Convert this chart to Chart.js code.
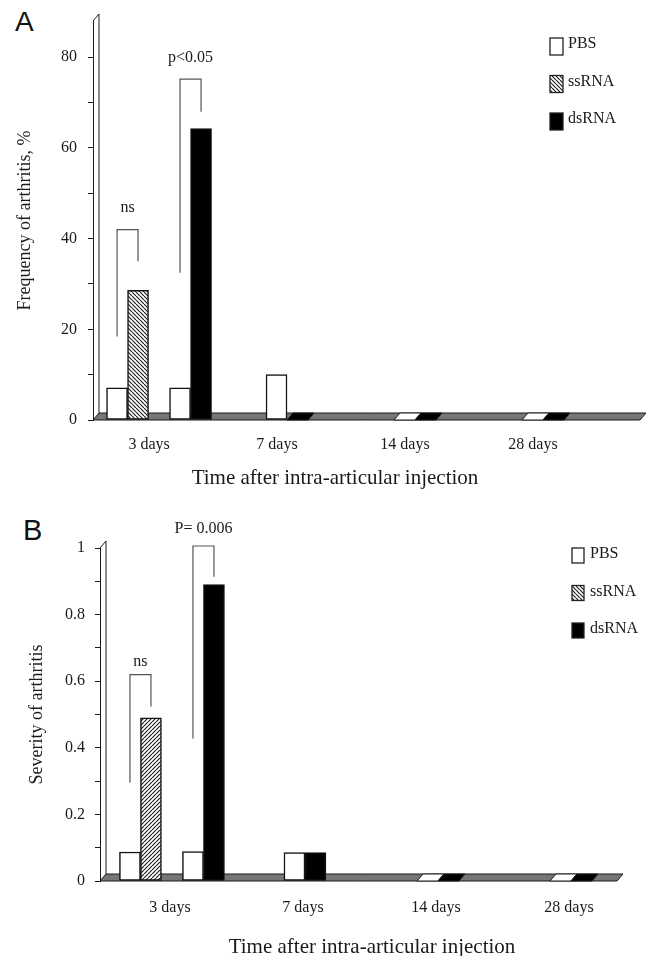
<!DOCTYPE html>
<html>
<head>
<meta charset="utf-8">
<script src="https://cdn.jsdelivr.net/npm/chart.js@4.4.1/dist/chart.umd.min.js"></script>
<style>
  body { margin: 0; background: #fff; width: 650px; height: 956px; overflow: hidden; position: relative; }
  canvas { position: absolute; left: 0; }
  .tag { position: absolute; font-family: "Liberation Sans", Arial, sans-serif; color: #111; }
</style>
</head>
<body>
<div class="tag" style="left:15px; top:8px; font-size:28px; line-height:28px;">A</div>
<div class="tag" style="left:23px; top:516px; font-size:29px; line-height:29px;">B</div>
<canvas id="chartA" width="650" height="490" style="top:0"></canvas>
<canvas id="chartB" width="650" height="466" style="top:490px"></canvas>
<script>
const SERIF = "'Liberation Serif', 'Times New Roman', serif";
const INK = "#1a1a1a";
const DX = 6, DY = 7;   // depth of the 3-D floor

const days = ["3 days", "7 days", "14 days", "28 days"];
const legendNames = ["PBS", "ssRNA", "dsRNA"];
const gapSlot = [0, null, null, null];   // empty slot between the two 3-day pairs

// A: frequency of arthritis, %
const freqPBS   = [7.1, 10, 0, 0];
const freqSs    = [28.6, null, null, null];
const freqPBS2  = [7.1, null, null, null];
const freqDs    = [64.3, 0, 0, 0];
const freqTicks = [0, 20, 40, 60, 80];
const freqBrackets = [
  { from: 0, to: 1, top: 42, left: 18.4, right: 35, label: "ns", labelAt: 46.7 },
  { from: 3, to: 4, top: 75.2, left: 32.5, right: 68, label: "p<0.05", labelAt: 79.8 }
];

// B: severity of arthritis
const sevPBS   = [0.087, 0.085, 0, 0];
const sevSs    = [0.49, null, null, null];
const sevPBS2  = [0.088, null, null, null];
const sevDs    = [0.89, 0.085, 0, 0];
const sevTicks = [0, 0.2, 0.4, 0.6, 0.8, 1];
const sevBrackets = [
  { from: 0, to: 1, top: 0.62, left: 0.295, right: 0.524, label: "ns", labelAt: 0.657 },
  { from: 3, to: 4, top: 1.006, left: 0.428, right: 0.914, label: "P= 0.006", labelAt: 1.057 }
];

function hatch(ctx, dir) {
  const s = 4, t = document.createElement("canvas");
  t.width = t.height = s;
  const g = t.getContext("2d");
  g.fillStyle = "#fff";
  g.fillRect(0, 0, s, s);
  g.strokeStyle = "#222";
  g.lineWidth = 1.2;
  g.beginPath();
  for (let k = -1; k <= 1; k++) {
    if (dir === "\\") { g.moveTo(k * s, 0); g.lineTo(k * s + s, s); }
    else { g.moveTo(k * s, s); g.lineTo(k * s + s, 0); }
  }
  g.stroke();
  return ctx.createPattern(t, "repeat");
}

function slab(ctx, x1, x2, y0, fill) {
  ctx.beginPath();
  ctx.moveTo(x1, y0);
  ctx.lineTo(x2, y0);
  ctx.lineTo(x2 + DX, y0 - DY);
  ctx.lineTo(x1 + DX, y0 - DY);
  ctx.closePath();
  ctx.fillStyle = fill;
  ctx.fill();
  ctx.stroke();
}

function decoPlugin(p, legendFills) {
  return {
    id: "deco",
    beforeDatasetsDraw(chart) {
      const { ctx, chartArea: a, scales: { y } } = chart;
      const y0 = y.getPixelForValue(0);
      ctx.save();
      ctx.strokeStyle = INK;
      ctx.lineWidth = 1;
      // back edge of the wall
      ctx.beginPath();
      ctx.moveTo(a.left, a.top);
      ctx.lineTo(a.left + DX, a.top - DY);
      ctx.lineTo(a.left + DX, y0 - DY);
      ctx.stroke();
      // floor and the zero-height bars lying on it
      slab(ctx, a.left, a.right, y0, "#767676");
      chart.data.datasets.forEach((ds, i) => {
        if (ds.spacer) return;
        chart.getDatasetMeta(i).data.forEach((el, j) => {
          if (ds.data[j].y === 0) slab(ctx, el.x - el.width / 2, el.x + el.width / 2, y0, ds.backgroundColor);
        });
      });
      ctx.restore();
    },
    afterDatasetsDraw(chart) {
      const { ctx, scales: { y } } = chart;
      ctx.save();
      // significance brackets
      ctx.strokeStyle = "#555";
      ctx.lineWidth = 1.2;
      ctx.font = `16px ${SERIF}`;
      ctx.fillStyle = INK;
      ctx.textAlign = "center";
      ctx.textBaseline = "middle";
      p.brackets.forEach(b => {
        const xl = chart.getDatasetMeta(b.from).data[0].x;
        const xr = chart.getDatasetMeta(b.to).data[0].x;
        const yt = y.getPixelForValue(b.top);
        ctx.beginPath();
        ctx.moveTo(xl, y.getPixelForValue(b.left));
        ctx.lineTo(xl, yt);
        ctx.lineTo(xr, yt);
        ctx.lineTo(xr, y.getPixelForValue(b.right));
        ctx.stroke();
        ctx.fillText(b.label, (xl + xr) / 2, y.getPixelForValue(b.labelAt));
      });
      // legend
      const L = p.legend;
      ctx.textAlign = "left";
      ctx.textBaseline = "alphabetic";
      ctx.strokeStyle = "#222";
      ctx.lineWidth = 1.3;
      legendNames.forEach((name, i) => {
        const top = L.y + i * L.gap;
        ctx.fillStyle = legendFills[i];
        ctx.fillRect(L.x, top, L.w, L.h);
        ctx.strokeRect(L.x, top, L.w, L.h);
        ctx.fillStyle = INK;
        ctx.fillText(name, L.x + L.w + L.dx, top + 10);
      });
      // x axis title
      ctx.font = `21px ${SERIF}`;
      ctx.textAlign = "center";
      ctx.textBaseline = "middle";
      ctx.fillText("Time after intra-articular injection", p.xTitleX, p.xTitleY);
      ctx.restore();
    }
  };
}

function panel(id, p) {
  const ctx = document.getElementById(id).getContext("2d");
  const ssFill = hatch(ctx, p.barHatch);
  const bars = (name, values, fill, extra) => Object.assign({
    label: name,
    data: values.map((v, i) => ({ x: i, y: v })),
    backgroundColor: fill
  }, extra);
  const tickFont = { family: SERIF, size: 16 };

  return new Chart(ctx, {
    type: "bar",
    data: {
      datasets: [
        bars("PBS", p.pbs, "#fff"),
        bars("ssRNA", p.ss, ssFill),
        bars("", gapSlot, "rgba(0,0,0,0)", { spacer: true, borderWidth: 0 }),
        bars("PBS", p.pbs2, "#fff"),
        bars("dsRNA", p.ds, "#000")
      ]
    },
    options: {
      responsive: false,
      animation: false,
      layout: { padding: { top: p.padTop, right: p.padRight, left: 0, bottom: 0 } },
      datasets: {
        bar: { barThickness: 21, skipNull: true, borderWidth: 1.5, borderColor: "#111", borderSkipped: false }
      },
      plugins: { legend: { display: false }, tooltip: { enabled: false } },
      scales: {
        x: {
          type: "linear", min: p.xMin, max: p.xMax, offset: false,
          grid: { display: false, drawTicks: false },
          border: { display: false },
          ticks: {
            stepSize: 1, includeBounds: false, autoSkip: false, maxRotation: 0,
            labelOffset: p.labelOffset, padding: p.xTickPad, color: INK, font: tickFont,
            callback: v => days[v] ?? ""
          },
          afterFit: s => { s.height = p.xAxisH; }
        },
        y: {
          min: 0, max: p.yMax,
          grid: { drawOnChartArea: false, drawTicks: true, tickLength: 5, color: INK },
          border: { display: true, color: INK, width: 1 },
          ticks: {
            stepSize: p.yStep, includeBounds: false, padding: p.yTickPad, color: INK, font: tickFont,
            callback: v => {
              const t = p.yTicks.find(t => Math.abs(t - v) < 1e-6);
              return t === undefined ? "" : String(t);
            }
          },
          title: { display: true, text: p.yTitle, color: INK, font: { family: SERIF, size: 18 }, padding: { top: p.yTitlePad } },
          afterFit: s => { s.width = p.yAxisW; }
        }
      }
    },
    plugins: [decoPlugin(p, ["#fff", hatch(ctx, "\\"), "#000"])]
  });
}

panel("chartA", {
  pbs: freqPBS, ss: freqSs, pbs2: freqPBS2, ds: freqDs,
  yTicks: freqTicks, yMax: 88, yStep: 10, brackets: freqBrackets,
  yTitle: "Frequency of arthritis, %", barHatch: "\\",
  xMin: -0.516, xMax: 3.758, padTop: 21, padRight: 10, yAxisW: 93, xAxisH: 70,
  labelOffset: -10, xTickPad: 15, yTickPad: 11, yTitlePad: 14,
  legend: { x: 550, y: 38, w: 13, h: 17, gap: 37.5, dx: 5 },
  xTitleX: 335, xTitleY: 478
});

panel("chartB", {
  pbs: sevPBS, ss: sevSs, pbs2: sevPBS2, ds: sevDs,
  yTicks: sevTicks, yMax: 1, yStep: 0.1, brackets: sevBrackets,
  yTitle: "Severity of arthritis", barHatch: "/",
  xMin: -0.541, xMax: 3.346, padTop: 58, padRight: 33, yAxisW: 100, xAxisH: 75,
  labelOffset: -2, xTickPad: 17, yTickPad: 10, yTitlePad: 26,
  legend: { x: 572, y: 58, w: 12, h: 15, gap: 37.5, dx: 6 },
  xTitleX: 372, xTitleY: 457
});
</script>
</body>
</html>
